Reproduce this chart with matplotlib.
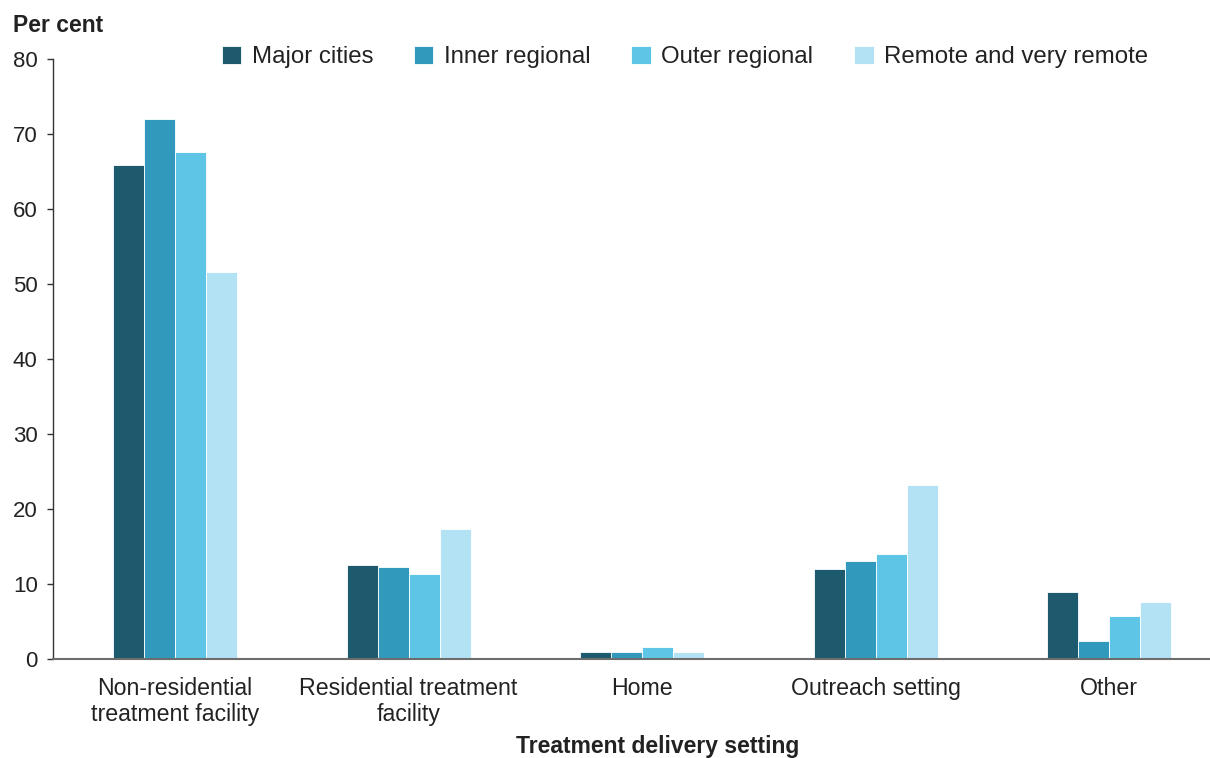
import matplotlib
matplotlib.use("Agg")
import matplotlib.pyplot as plt
import numpy as np

plt.rcParams['font.family'] = ['Liberation Sans', 'DejaVu Sans']

categories = ["Non-residential\ntreatment facility", "Residential treatment\nfacility",
              "Home", "Outreach setting", "Other"]
series_names = ["Major cities", "Inner regional", "Outer regional", "Remote and very remote"]
major_cities = [65.9, 12.5, 0.9, 12.0, 8.9]
inner_regional = [72.0, 12.3, 0.9, 13.1, 2.4]
outer_regional = [67.6, 11.3, 1.6, 14.0, 5.7]
remote = [51.6, 17.3, 0.9, 23.2, 7.6]
colors = ["#1d5a6e", "#3199bc", "#5fc5e6", "#b3e2f4"]
yticks = [0, 10, 20, 30, 40, 50, 60, 70, 80]

values = [major_cities, inner_regional, outer_regional, remote]

fig = plt.figure(figsize=(12.10, 7.58), dpi=100)
ax = fig.add_axes([53/1210, 1 - 659/758, (1210 - 53)/1210, (659 - 59)/758])

x = np.arange(len(categories))
w = 0.1327
for i, (vals, name, c) in enumerate(zip(values, series_names, colors)):
    ax.bar(x + (i - 1.5) * w, vals, width=w, color=c, edgecolor='white',
           linewidth=0.6, label=name, zorder=2)

ax.set_xlim(-0.522, 4.431)
ax.set_ylim(0, 80)
ax.set_yticks(yticks)
ax.set_xticks(x)
ax.set_xticklabels(categories, fontsize=16.7, color='#222222', linespacing=1.15)
ax.tick_params(axis='x', length=0, pad=13)
ax.tick_params(axis='y', length=4, width=1, color='#333333', pad=7,
               labelsize=16, labelcolor='#222222')

for s in ['top', 'right']:
    ax.spines[s].set_visible(False)
ax.spines['left'].set_color('#333333')
ax.spines['left'].set_linewidth(1.0)
ax.spines['bottom'].set_color('#6d6d6d')
ax.spines['bottom'].set_linewidth(1.5)
ax.spines['bottom'].set_zorder(3)

fig.legend(loc='center', bbox_to_anchor=(685/1210, 1 - 57/758), ncol=4,
           frameon=False, fontsize=17.3, handlelength=0.8, handleheight=0.8,
           handletextpad=0.45, columnspacing=1.7, borderpad=0,
           labelcolor='#222222')

fig.text(13/1210, 1 - 25/758, "Per cent", fontsize=16.5, fontweight='bold',
         ha='left', va='center', color='#222222')
fig.text(658/1210, 1 - 746/758, "Treatment delivery setting", fontsize=16.5,
         fontweight='bold', ha='center', va='center', color='#222222')

fig.savefig("out.png", dpi=100)
